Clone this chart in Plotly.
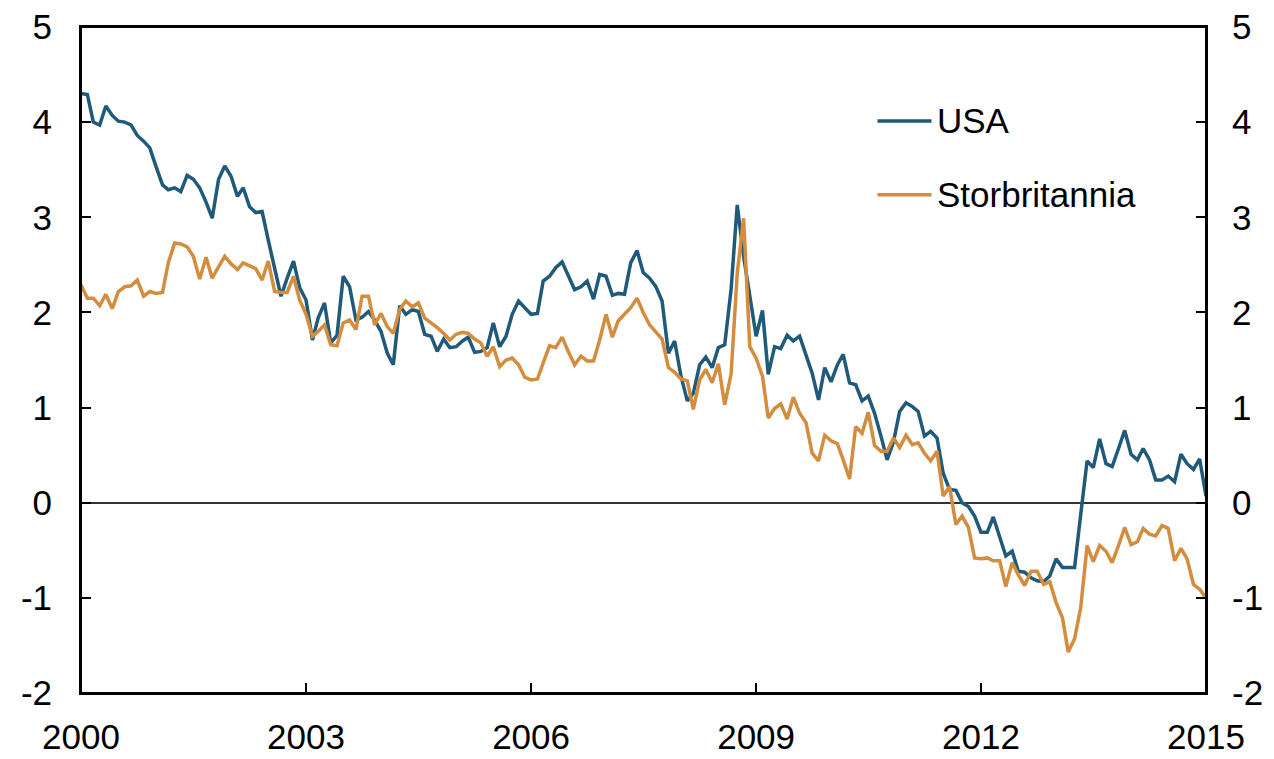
import pandas as pd
import plotly.graph_objects as go

# monthly, Jan 2000 - Jan 2015
months = pd.date_range("2000-01-01", "2015-01-01", freq="MS")

usa = [
    4.30, 4.29, 4.00, 3.97, 4.17, 4.07, 4.01, 4.00, 3.97, 3.86, 3.80, 3.73,
    3.53, 3.34, 3.29, 3.31, 3.27, 3.44, 3.40, 3.31, 3.16, 2.99, 3.40, 3.54,
    3.43, 3.22, 3.31, 3.11, 3.05, 3.06, 2.76, 2.47, 2.17, 2.36, 2.54, 2.26,
    2.13, 1.71, 1.94, 2.10, 1.68, 1.76, 2.38, 2.27, 1.92, 1.95, 2.01, 1.92,
    1.80, 1.57, 1.45, 2.07, 1.98, 2.03, 2.01, 1.77, 1.75, 1.59, 1.72, 1.63,
    1.64, 1.70, 1.74, 1.58, 1.59, 1.63, 1.89, 1.64, 1.75, 1.98, 2.12, 2.05,
    1.98, 1.99, 2.33, 2.38, 2.47, 2.53, 2.38, 2.24, 2.27, 2.33, 2.14, 2.40,
    2.38, 2.18, 2.20, 2.19, 2.52, 2.65, 2.42, 2.36, 2.27, 2.12, 1.57, 1.70,
    1.33, 1.07, 1.15, 1.45, 1.53, 1.42, 1.63, 1.66, 2.24, 3.13, 2.59, 2.17,
    1.75, 2.02, 1.35, 1.64, 1.62, 1.76, 1.70, 1.75, 1.55, 1.36, 1.08, 1.42,
    1.27, 1.45, 1.56, 1.26, 1.24, 1.07, 1.12, 0.94, 0.70, 0.45, 0.64, 0.96,
    1.05, 1.01, 0.96, 0.70, 0.75, 0.68, 0.31, 0.14, 0.13, 0.00, -0.04, -0.14,
    -0.31, -0.31, -0.15, -0.35, -0.56, -0.51, -0.72, -0.73, -0.79, -0.82, -0.83, -0.77,
    -0.59, -0.68, -0.68, -0.68, -0.12, 0.44, 0.37, 0.67, 0.41, 0.38, 0.57, 0.76,
    0.51, 0.45, 0.57, 0.45, 0.24, 0.24, 0.28, 0.22, 0.51, 0.41, 0.35, 0.46,
    0.07,
]

storbritannia = [
    2.29, 2.15, 2.15, 2.07, 2.19, 2.04, 2.22, 2.27, 2.28, 2.34, 2.17, 2.22,
    2.20, 2.21, 2.52, 2.73, 2.72, 2.69, 2.59, 2.35, 2.58, 2.36, 2.48, 2.59,
    2.51, 2.45, 2.52, 2.49, 2.46, 2.34, 2.54, 2.22, 2.21, 2.21, 2.38, 2.13,
    1.98, 1.75, 1.80, 1.87, 1.66, 1.65, 1.89, 1.92, 1.82, 2.17, 2.17, 1.87,
    1.99, 1.85, 1.78, 2.03, 2.12, 2.06, 2.10, 1.94, 1.89, 1.84, 1.78, 1.71,
    1.77, 1.79, 1.78, 1.72, 1.68, 1.54, 1.64, 1.43, 1.50, 1.52, 1.45, 1.32,
    1.29, 1.30, 1.47, 1.65, 1.63, 1.74, 1.59, 1.45, 1.54, 1.49, 1.49, 1.71,
    1.98, 1.74, 1.91, 1.98, 2.05, 2.15, 2.00, 1.87, 1.80, 1.72, 1.42, 1.37,
    1.30, 1.28, 0.98, 1.29, 1.40, 1.26, 1.46, 1.03, 1.35, 2.41, 2.99, 1.64,
    1.52, 1.33, 0.89, 0.99, 1.04, 0.88, 1.11, 0.94, 0.84, 0.52, 0.44, 0.71,
    0.65, 0.62, 0.45, 0.25, 0.80, 0.73, 0.95, 0.60, 0.54, 0.54, 0.68, 0.58,
    0.71, 0.61, 0.63, 0.52, 0.44, 0.54, 0.07, 0.17, -0.23, -0.14, -0.26, -0.58,
    -0.59, -0.58, -0.61, -0.61, -0.88, -0.63, -0.76, -0.87, -0.72, -0.72, -0.86, -0.83,
    -1.05, -1.21, -1.57, -1.43, -1.10, -0.45, -0.62, -0.45, -0.51, -0.63, -0.45, -0.26,
    -0.44, -0.41, -0.27, -0.33, -0.35, -0.24, -0.27, -0.61, -0.48, -0.59, -0.86, -0.91,
    -1.00,
]

names = ["USA", "Storbritannia"]
colors = ["#1f5a7a", "#d48c3e"]
y_ticks = [-2, -1, 0, 1, 2, 3, 4, 5]
y_labels = ["-2", "-1", "0", "1", "2", "3", "4", "5"]

font = "Liberation Sans, Arial, sans-serif"

fig = go.Figure()
for series, name, color in zip([usa, storbritannia], names, colors):
    fig.add_trace(go.Scatter(x=months, y=series, name=name, mode="lines",
                             line=dict(color=color, width=3.5), showlegend=False))

# invisible trace so the right-hand axis gets drawn
fig.add_trace(go.Scatter(x=months[:1], y=[0], yaxis="y2", mode="lines",
                         line=dict(width=0), hoverinfo="skip", showlegend=False))

# legend drawn by hand to match the long line samples
legend_y = [0.859, 0.748]
for name, color, ly in zip(names, colors, legend_y):
    fig.add_shape(type="line", xref="paper", yref="paper",
                  x0=0.708, x1=0.756, y0=ly, y1=ly,
                  line=dict(color=color, width=3.5))
    fig.add_annotation(text=name, xref="paper", yref="paper", x=0.759, y=ly,
                       xanchor="left", yanchor="middle", showarrow=False,
                       font=dict(family=font, size=35, color="black"))

# frame round the plot area
fig.add_shape(type="rect", xref="paper", yref="paper", x0=0, x1=1, y0=0, y1=1,
              line=dict(color="black", width=2), layer="above")

axis_common = dict(ticks="inside", ticklen=10, tickwidth=1.5, tickcolor="black",
                   showgrid=False, automargin=False, ticklabeloverflow="allow",
                   tickfont=dict(family=font, size=35, color="black"))

# page body has an 8px margin, so the figure is offset by 8px inside the window
fig.update_layout(
    width=1266, height=751,
    margin=dict(l=73, r=68, t=19, b=66),
    plot_bgcolor="white", paper_bgcolor="white",
    xaxis=dict(range=["2000-01-01", "2015-01-01"], tick0="2000-01-01", dtick="M36",
               tickformat="%Y", showline=True, mirror=True, linecolor="black",
               linewidth=2, ticklabelstandoff=12, zeroline=False, **axis_common),
    yaxis=dict(range=[-2, 5], tickvals=y_ticks, ticktext=y_labels, showline=True,
               mirror=True, linecolor="black", linewidth=2, zeroline=True,
               zerolinecolor="#333333", zerolinewidth=1.5,
               ticklabelstandoff=20, **axis_common),
    yaxis2=dict(range=[-2, 5], tickvals=y_ticks, ticktext=y_labels, overlaying="y",
                side="right", showline=False, zeroline=False,
                ticklabelstandoff=25, **axis_common),
)

fig.write_html("out.html")
